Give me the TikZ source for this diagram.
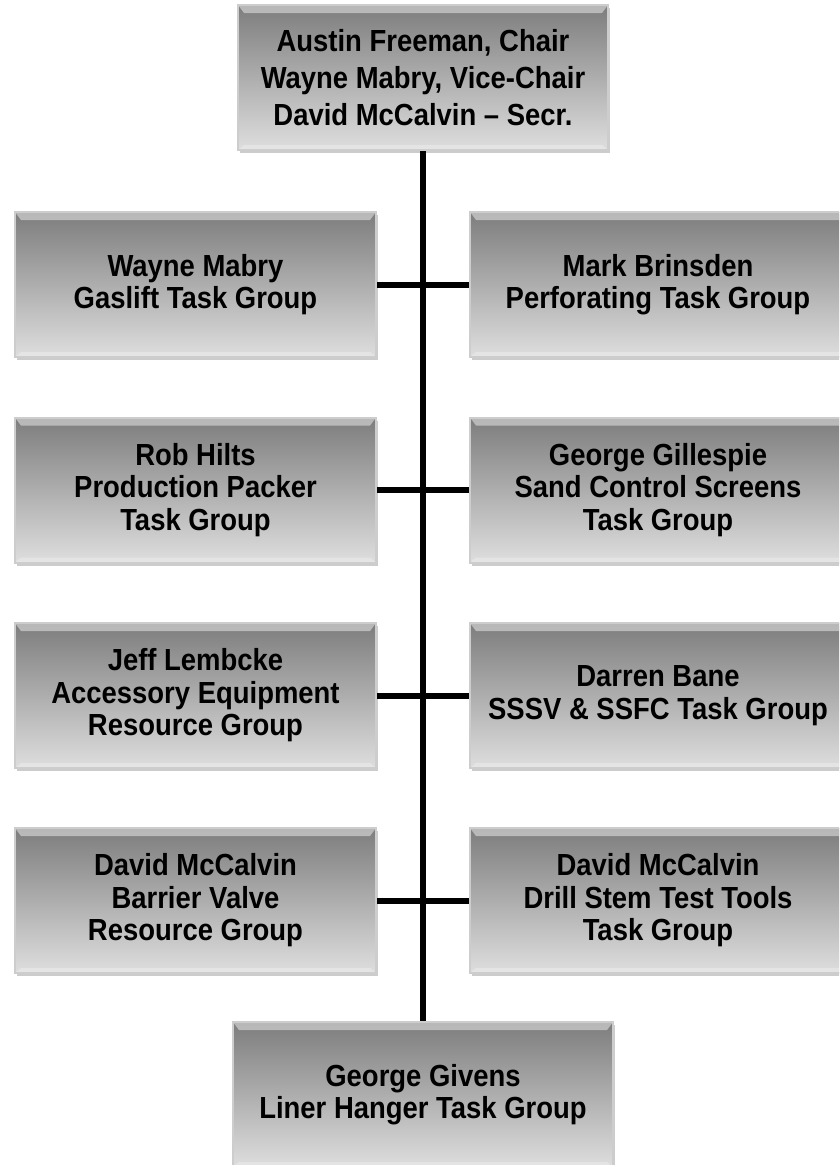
\documentclass[tikz,border=0pt]{standalone}
\usepackage{fontspec}
\setmainfont{Liberation Sans}[FakeStretch=0.9]
\usetikzlibrary{shadows}
\definecolor{boxtop}{RGB}{125,125,125}
\definecolor{boxbot}{RGB}{222,222,222}
\definecolor{boxrim}{RGB}{205,205,205}
\tikzset{
	grpbox/.style={rectangle, minimum width=361pt, minimum height=145pt, inner sep=0pt,
		top color=boxtop, bottom color=boxbot, draw=boxrim, line width=2pt, align=center,
		font=\fontsize{30.5}{32.5}\selectfont\bfseries,
		drop shadow={opacity=0.4, shadow xshift=1.5pt, shadow yshift=-3pt},
		path picture={
			\fill[white, opacity=0.45] (path picture bounding box.north west) -- (path picture bounding box.north east)
				-- ([xshift=-6pt,yshift=-8pt]path picture bounding box.north east)
				-- ([xshift=6pt,yshift=-8pt]path picture bounding box.north west) -- cycle;
			\fill[white, opacity=0.25] (path picture bounding box.south west) -- (path picture bounding box.south east)
				-- ([xshift=-6pt,yshift=5pt]path picture bounding box.south east)
				-- ([xshift=6pt,yshift=5pt]path picture bounding box.south west) -- cycle;
		}},
	link/.style={line width=6pt, black}
}
\begin{document}
\begin{tikzpicture}[x=1pt,y=-1pt]
			\clip (0,0) rectangle (839,1165);
			
			\node[grpbox, minimum width=370pt, font=\fontsize{30.5}{37}\selectfont\bfseries] (chair) at (423,77.5)
				{Austin Freeman, Chair\\Wayne Mabry, Vice-Chair\\David McCalvin -- Secr.};
			
			%%left
			\node[grpbox] (gaslift) at (195.5,284.5) {Wayne Mabry\\Gaslift Task Group};
			\node[grpbox] (packer) at (195.5,490) {Rob Hilts\\Production Packer\\Task Group};
			\node[grpbox] (access) at (195.5,695.5) {Jeff Lembcke\\Accessory Equipment\\Resource Group};
			\node[grpbox] (barrier) at (195.5,900.5) {David McCalvin\\Barrier Valve\\Resource Group};
			
			%%right
			\node[grpbox, minimum width=376pt] (perf) at (658,284.5) {Mark Brinsden\\Perforating Task Group};
			\node[grpbox, minimum width=376pt] (sand) at (658,490) {George Gillespie\\Sand Control Screens\\Task Group};
			\node[grpbox, minimum width=376pt] (sssv) at (658,695.5) {Darren Bane\\SSSV \& SSFC Task Group};
			\node[grpbox, minimum width=376pt] (dst) at (658,900.5) {David McCalvin\\Drill Stem Test Tools\\Task Group};
			
			\node[grpbox, minimum width=380pt] (liner) at (423,1094.5) {George Givens\\Liner Hanger Task Group};
			
			%%lines
			\draw[link] (chair.south) -- (liner.north);
			\foreach \l / \r in {gaslift/perf, packer/sand, access/sssv, barrier/dst}
			{
				\draw[link] (\l.east) -- (\r.west);
			}
\end{tikzpicture}
\end{document}
